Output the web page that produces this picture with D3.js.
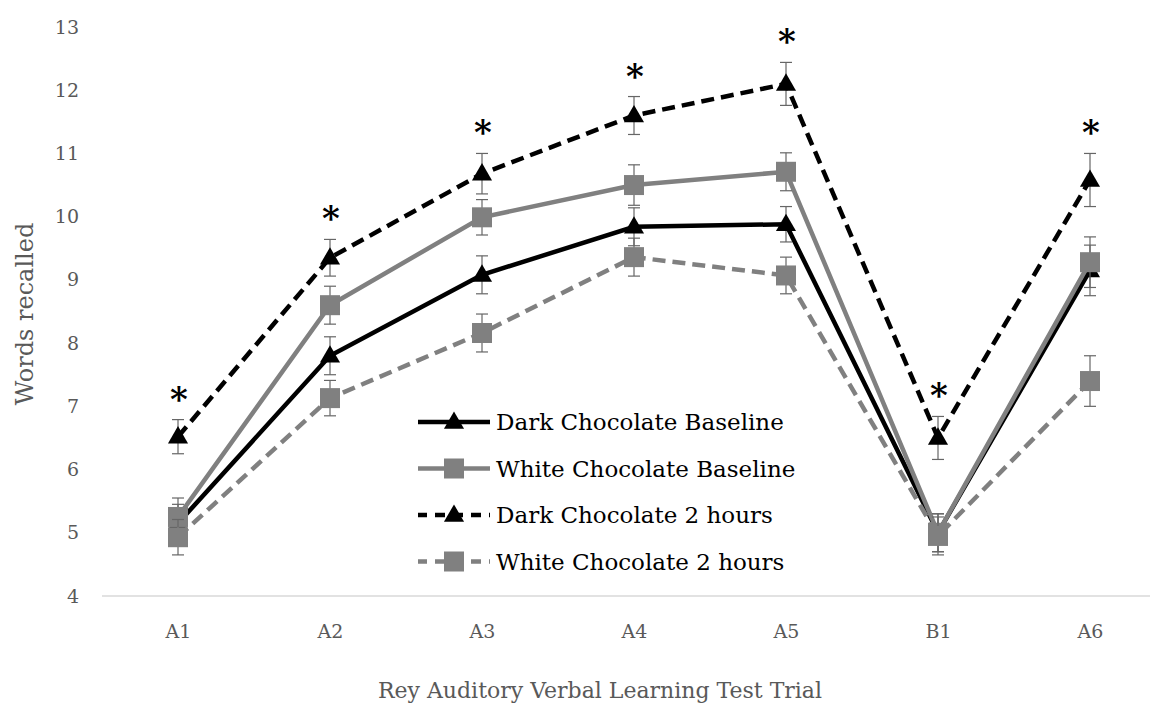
<!DOCTYPE html>
<html>
<head>
<meta charset="utf-8">
<script src="https://cdn.jsdelivr.net/npm/d3@7"></script>
<style>
  body { margin: 0; background: #fff; overflow: hidden; }
  text { font-family: 'DejaVu Serif', serif; }
</style>
</head>
<body>
<div id="chart"></div>
<script>
let trials = ['A1', 'A2', 'A3', 'A4', 'A5', 'B1', 'A6'];
let yTicks = [4, 5, 6, 7, 8, 9, 10, 11, 12, 13];

let dcBase = [5.15, 7.8, 9.08, 9.84, 9.88, 5.0, 9.15];
let dcBaseErr = [0.3, 0.3, 0.3, 0.3, 0.28, 0.3, 0.4];
let wcBase = [5.25, 8.6, 9.99, 10.5, 10.71, 5.0, 9.28];
let wcBaseErr = [0.3, 0.3, 0.28, 0.32, 0.3, 0.3, 0.4];
let dc2h = [6.52, 9.35, 10.68, 11.6, 12.1, 6.5, 10.58];
let dc2hErr = [0.27, 0.29, 0.32, 0.3, 0.34, 0.34, 0.42];
let wc2h = [4.93, 7.13, 8.16, 9.36, 9.07, 4.95, 7.4];
let wc2hErr = [0.28, 0.28, 0.3, 0.3, 0.29, 0.3, 0.4];
let significant = [true, true, true, true, true, true, true];

let seriesNames = ['Dark Chocolate Baseline', 'White Chocolate Baseline', 'Dark Chocolate 2 hours', 'White Chocolate 2 hours'];

let width = 1150;
let height = 705;

let series = [
  { name: seriesNames[0], values: dcBase, err: dcBaseErr, color: '#000000', dash: null, marker: 'triangle' },
  { name: seriesNames[1], values: wcBase, err: wcBaseErr, color: '#808080', dash: null, marker: 'square' },
  { name: seriesNames[2], values: dc2h, err: dc2hErr, color: '#000000', dash: '13,7', marker: 'triangle' },
  { name: seriesNames[3], values: wc2h, err: wc2hErr, color: '#808080', dash: '13,7', marker: 'square' }
];

let svg = d3.select('#chart').append('svg')
            .attr('width', width)
            .attr('height', height);

let xScale = d3.scalePoint()
               .domain(trials)
               .range([178, 1090]);
let yScale = d3.scaleLinear()
               .domain([4, 13])
               .range([596, 27]);

// Baseline of the plot area
svg.append('line')
   .attr('x1', 102)
   .attr('x2', width)
   .attr('y1', yScale(4))
   .attr('y2', yScale(4))
   .style('stroke', '#d9d9d9')
   .style('stroke-width', 1.5);

// y-axis tick labels
svg.append('g')
   .attr('transform', 'translate(79, 0)')
   .call(d3.axisLeft(yScale).tickValues(yTicks).tickSize(0).tickPadding(0))
   .call(g => g.select('.domain').remove())
   .selectAll('text')
   .style('font-family', "'DejaVu Serif', serif")
   .style('font-size', '19px')
   .style('fill', '#595959');

// x-axis tick labels
svg.append('g')
   .attr('transform', `translate(0, ${yScale(4) + 28})`)
   .call(d3.axisBottom(xScale).tickSize(0).tickPadding(0))
   .call(g => g.select('.domain').remove())
   .selectAll('text')
   .style('font-family', "'DejaVu Serif', serif")
   .style('font-size', '19px')
   .style('fill', '#595959');

// axis titles
svg.append('text')
   .attr('transform', 'translate(33, 314) rotate(-90)')
   .attr('text-anchor', 'middle')
   .style('font-size', '24px')
   .style('fill', '#595959')
   .text('Words recalled');

svg.append('text')
   .attr('x', 600)
   .attr('y', 698)
   .attr('text-anchor', 'middle')
   .style('font-size', '22px')
   .style('fill', '#595959')
   .text('Rey Auditory Verbal Learning Test Trial');

let lineGen = d3.line()
                .x((v, i) => xScale(trials[i]))
                .y(v => yScale(v));

let triangle = d3.symbol().type(d3.symbolTriangle).size(175);

function drawMarker(g, s, x, y) {
  if (s.marker === 'triangle') {
    g.append('path')
     .attr('d', triangle())
     .attr('transform', `translate(${x}, ${y + 1})`)
     .style('fill', s.color);
  } else {
    g.append('rect')
     .attr('x', x - 10)
     .attr('y', y - 10)
     .attr('width', 20)
     .attr('height', 20)
     .style('fill', s.color);
  }
}

series.forEach(s => {
  let g = svg.append('g');

  g.append('path')
   .datum(s.values)
   .attr('d', lineGen)
   .style('fill', 'none')
   .style('stroke', s.color)
   .style('stroke-width', 4.5)
   .style('stroke-dasharray', s.dash);

  // error bars
  s.values.forEach((v, i) => {
    let x = xScale(trials[i]);
    let y1 = yScale(v + s.err[i]);
    let y2 = yScale(v - s.err[i]);
    g.append('line').attr('x1', x).attr('x2', x).attr('y1', y1).attr('y2', y2)
     .style('stroke', '#666').style('stroke-width', 1.2);
    [y1, y2].forEach(yy => {
      g.append('line').attr('x1', x - 6).attr('x2', x + 6).attr('y1', yy).attr('y2', yy)
       .style('stroke', '#666').style('stroke-width', 1.2);
    });
  });

  s.values.forEach((v, i) => drawMarker(g, s, xScale(trials[i]), yScale(v)));
});

// significance asterisks over Dark Chocolate 2 hours
svg.selectAll('.star')
   .data(dc2h)
   .enter()
   .append('text')
   .attr('class', 'star')
   .filter((v, i) => significant[i])
   .attr('x', (v, i) => xScale(trials[i]) + 1)
   .attr('y', (v, i) => yScale(v + dc2hErr[i]) - 9)
   .attr('text-anchor', 'middle')
   .style('font-size', '34px')
   .style('font-weight', 'bold')
   .style('fill', '#000')
   .text('*');

// legend
let legend = svg.append('g').attr('transform', 'translate(418, 422)');
series.forEach((s, i) => {
  let row = legend.append('g').attr('transform', `translate(0, ${i * 46.5})`);
  row.append('line')
     .attr('x1', 0).attr('x2', 72).attr('y1', 0).attr('y2', 0)
     .style('stroke', s.color)
     .style('stroke-width', 4.5)
     .style('stroke-dasharray', s.dash ? '10,8' : null)
     .style('stroke-dashoffset', s.dash ? 1 : null);
  drawMarker(row, s, 36, 0);
  row.append('text')
     .attr('x', 78)
     .attr('y', 0)
     .attr('dy', '0.35em')
     .style('font-size', '23px')
     .style('fill', '#000')
     .text(s.name);
});
</script>
</body>
</html>
